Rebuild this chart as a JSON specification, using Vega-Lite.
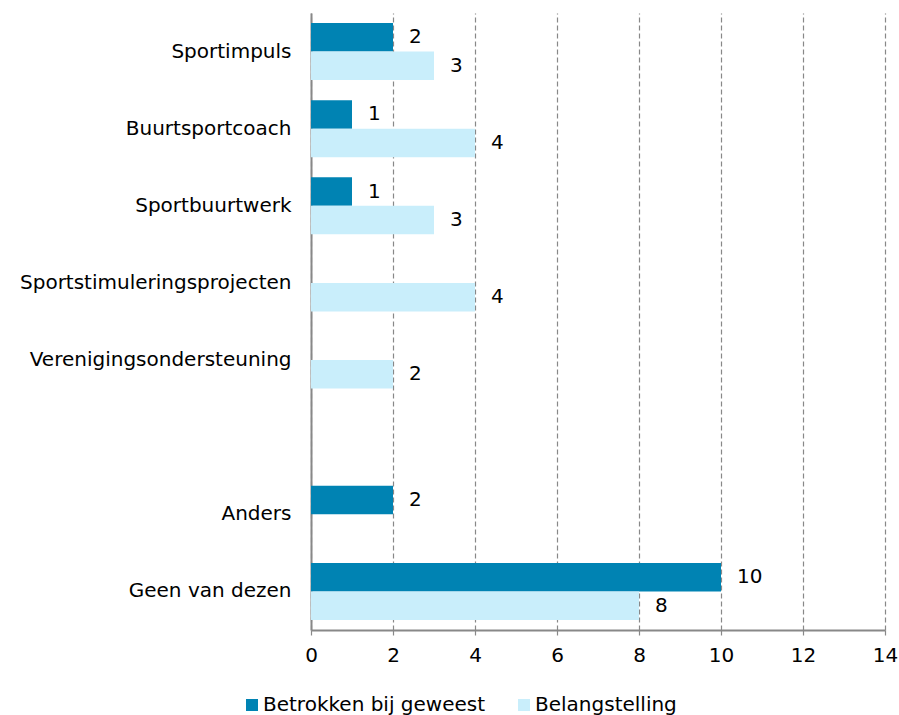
{
  "$schema": "https://vega.github.io/schema/vega-lite/v6.json",
  "autosize": {"type": "none"},
  "padding": {"left": 311, "top": 13, "right": 14, "bottom": 85},
  "width": 574,
  "height": 617,
  "background": "white",
  "config": {
    "view": {"stroke": null},
    "font": "DejaVu Sans",
    "text": {"font": "DejaVu Sans"}
  },
  "data": {
    "values": [
      {"categorie": "Sportimpuls", "reeks": "Betrokken bij geweest", "volgorde": 1, "aantal": 2},
      {"categorie": "Sportimpuls", "reeks": "Belangstelling", "volgorde": 2, "aantal": 3},
      {"categorie": "Buurtsportcoach", "reeks": "Betrokken bij geweest", "volgorde": 1, "aantal": 1},
      {"categorie": "Buurtsportcoach", "reeks": "Belangstelling", "volgorde": 2, "aantal": 4},
      {"categorie": "Sportbuurtwerk", "reeks": "Betrokken bij geweest", "volgorde": 1, "aantal": 1},
      {"categorie": "Sportbuurtwerk", "reeks": "Belangstelling", "volgorde": 2, "aantal": 3},
      {"categorie": "Sportstimuleringsprojecten", "reeks": "Belangstelling", "volgorde": 2, "aantal": 4},
      {"categorie": "Verenigingsondersteuning", "reeks": "Belangstelling", "volgorde": 2, "aantal": 2},
      {"categorie": "Anders", "reeks": "Betrokken bij geweest", "volgorde": 1, "aantal": 2},
      {"categorie": "Geen van dezen", "reeks": "Betrokken bij geweest", "volgorde": 1, "aantal": 10},
      {"categorie": "Geen van dezen", "reeks": "Belangstelling", "volgorde": 2, "aantal": 8}
    ]
  },
  "encoding": {
    "y": {
      "field": "categorie",
      "type": "nominal",
      "scale": {
        "domain": ["Sportimpuls", "Buurtsportcoach", "Sportbuurtwerk", "Sportstimuleringsprojecten", "Verenigingsondersteuning", " ", "Anders", "Geen van dezen"],
        "paddingInner": 0.26,
        "paddingOuter": 0.13
      },
      "axis": {
        "title": null,
        "ticks": false,
        "labelPadding": 20,
        "labelLimit": 400,
        "labelFont": "DejaVu Sans",
        "labelFontSize": 20,
        "labelColor": "#000000",
        "domainColor": "#888888",
        "domainWidth": 2,
        "grid": false
      }
    },
    "yOffset": {
      "field": "reeks",
      "type": "nominal",
      "scale": {"domain": ["Betrokken bij geweest", "Belangstelling"], "paddingInner": 0, "paddingOuter": 0}
    },
    "x": {
      "field": "aantal",
      "type": "quantitative",
      "scale": {"domain": [0, 14], "nice": false},
      "axis": {
        "title": null,
        "values": [0, 2, 4, 6, 8, 10, 12, 14],
        "grid": true,
        "gridColor": "#888888",
        "gridDash": [5, 3],
        "gridWidth": 1.2,
        "domainColor": "#888888",
        "domainWidth": 2,
        "tickColor": "#888888",
        "tickSize": 5,
        "tickWidth": 1.2,
        "labelPadding": 10,
        "labelFont": "DejaVu Sans",
        "labelFontSize": 20,
        "labelColor": "#000000",
        "labelFlush": false
      }
    }
  },
  "layer": [
    {
      "mark": {"type": "bar"},
      "encoding": {
        "color": {
          "field": "reeks",
          "type": "nominal",
          "scale": {"domain": ["Betrokken bij geweest", "Belangstelling"], "range": ["#0083B3", "#C9EEFB"]},
          "legend": {
            "title": null,
            "orient": "none",
            "direction": "horizontal",
            "columns": 2,
            "legendX": -69,
            "legendY": 682,
            "padding": 0,
            "symbolType": "square",
            "symbolSize": 144,
            "symbolStrokeWidth": 0,
            "labelOffset": 1,
            "columnPadding": 28,
            "labelFont": "DejaVu Sans",
            "labelFontSize": 20,
            "labelColor": "#000000",
            "labelLimit": 400
          }
        }
      }
    },
    {
      "mark": {"type": "text", "align": "left", "baseline": "middle", "dx": 16, "fontSize": 20, "font": "DejaVu Sans", "color": "#000000"},
      "encoding": {
        "text": {"field": "aantal", "type": "quantitative"}
      }
    }
  ]
}
